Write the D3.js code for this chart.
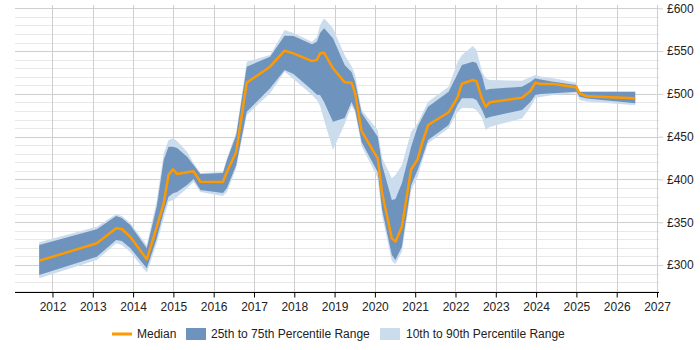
<!DOCTYPE html>
<html>
<head>
<meta charset="utf-8">
<script src="https://cdn.jsdelivr.net/npm/d3@7"></script>
<style>
  body { margin: 0; background: #fff; }
  svg { font-family: "Liberation Sans", Arial, sans-serif; }
  .grid-minor { stroke: #e8e8e8; stroke-width: 1; }
  .grid-major { stroke: #cfcfcf; stroke-width: 1; }
  .grid-year { stroke: #cfcfcf; stroke-width: 1; }
  .tick-label { font-size: 12px; fill: #222; }
  .legend text { font-size: 12px; fill: #222; }
</style>
</head>
<body>
<script>
// decimal years of each sample
var years = [2011.67, 2013.10, 2013.58, 2013.72, 2013.93, 2014.34, 2014.59, 2014.76, 2014.88, 2014.99,
  2015.09, 2015.34, 2015.50, 2015.67, 2016.23, 2016.33, 2016.56, 2016.82, 2017.40, 2017.76,
  2017.98, 2018.44, 2018.56, 2018.64, 2018.74, 2018.96, 2019.25, 2019.42, 2019.51, 2019.67,
  2020.07, 2020.18, 2020.42, 2020.51, 2020.67, 2020.90, 2021.06, 2021.17, 2021.32, 2021.83,
  2022.05, 2022.16, 2022.43, 2022.52, 2022.66, 2022.75, 2022.85, 2023.65, 2023.86, 2023.98,
  2024.11, 2024.43, 2025.00, 2025.08, 2025.26, 2026.46];

var median = [305.0, 325.4, 342.9, 342.1, 333.1, 306.7, 344.8, 372.1, 405.2, 411.9,
  406.4, 408.4, 409.5, 397.4, 397.0, 409.1, 432.4, 513.1, 531.8, 550.5,
  547.4, 538.4, 539.6, 547.4, 548.1, 529.9, 513.5, 513.1, 500.7, 456.6,
  424.7, 383.8, 331.2, 327.3, 344.8, 411.9, 423.5, 442.2, 463.6, 478.5,
  495.8, 511.9, 516.2, 514.8, 494.0, 485.0, 490.2, 495.5, 503.4, 513.1,
  511.5, 511.5, 507.7, 500.7, 497.2, 494.8];

var p25 = [288.3, 309.7, 329.2, 328.1, 319.9, 296.2, 331.6, 361.9, 379.8, 383.8,
  385.3, 393.5, 400.5, 387.7, 384.2, 390.0, 416.9, 479.2, 506.5, 527.9,
  523.2, 504.5, 499.0, 498.7, 490.5, 467.5, 471.8, 490.5, 481.2, 443.8,
  408.7, 364.3, 311.7, 305.9, 321.4, 393.5, 411.0, 425.1, 446.1, 463.6,
  487.0, 494.8, 494.8, 492.8, 481.2, 471.4, 473.0, 481.2, 490.5, 498.7,
  499.9, 500.7, 502.5, 496.7, 494.6, 489.0];

var p75 = [323.4, 341.7, 357.3, 354.9, 346.8, 319.5, 369.0, 422.7, 438.3, 438.3,
  436.7, 426.6, 416.9, 406.4, 407.5, 422.7, 451.9, 531.8, 543.4, 568.0,
  567.6, 557.9, 561.0, 571.1, 576.6, 564.9, 533.7, 525.6, 513.9, 477.7,
  449.9, 416.9, 376.0, 377.2, 395.5, 438.3, 461.6, 471.8, 485.0, 502.5,
  523.2, 533.7, 537.6, 536.1, 520.9, 504.5, 505.7, 508.4, 513.9, 518.2,
  516.8, 514.2, 510.4, 502.5, 502.5, 502.5];

var p10 = [284.5, 305.9, 325.4, 323.4, 315.2, 291.0, 325.7, 354.9, 374.0, 376.0,
  379.5, 389.7, 397.0, 385.3, 380.7, 385.3, 413.4, 475.3, 500.7, 525.9,
  517.4, 498.7, 493.0, 485.8, 469.5, 434.4, 464.8, 485.8, 478.8, 439.1,
  401.7, 357.3, 304.7, 301.2, 315.6, 387.7, 403.2, 420.4, 442.2, 459.8,
  478.8, 483.5, 483.1, 481.2, 471.8, 457.8, 461.3, 471.4, 484.7, 494.8,
  496.3, 498.7, 500.7, 492.8, 491.0, 486.7];

var p90 = [326.5, 344.8, 359.6, 357.3, 349.1, 323.4, 376.0, 430.5, 446.1, 448.1,
  444.9, 432.4, 419.2, 407.5, 408.7, 425.1, 455.5, 537.6, 545.4, 574.6,
  571.1, 561.0, 566.5, 580.5, 588.3, 576.6, 545.4, 532.6, 522.1, 481.2,
  457.8, 425.1, 401.3, 405.2, 416.9, 455.8, 465.6, 476.5, 490.9, 508.4,
  537.2, 545.4, 555.9, 551.3, 525.6, 518.2, 516.2, 515.4, 519.7, 522.1,
  520.3, 518.2, 513.1, 502.5, 502.5, 502.5];

var yearTicks = d3.range(2012, 2028);
var priceTicks = [300, 350, 400, 450, 500, 550, 600];
var minorTicks = d3.range(270, 601, 10);

var legendItems = ["Median", "25th to 75th Percentile Range", "10th to 90th Percentile Range"];

var width = 700,
  height = 350,
  plotLeft = 15,
  plotRight = 657,
  plotTop = 5,
  plotBottom = 292;

var rows = years.map(function (y, i) {
  return { year: y, med: median[i], p10: p10[i], p25: p25[i], p75: p75[i], p90: p90[i] };
});

var svg = d3.select("body")
  .append("svg")
  .attr("width", width)
  .attr("height", height);

var x = d3.scaleLinear().domain([2011.07, 2027.0]).range([plotLeft, plotRight]);
var y = d3.scaleLinear().domain([268.5, 603.9]).range([plotBottom, plotTop]);

// gridlines
svg.append("g")
  .selectAll("line")
  .data(minorTicks.filter(function (d) { return d % 50 != 0; }))
  .enter()
  .append("line")
  .attr("class", "grid-minor")
  .attr("x1", plotLeft)
  .attr("x2", plotRight + 2)
  .attr("y1", function (d) { return Math.round(y(d)) + 0.5; })
  .attr("y2", function (d) { return Math.round(y(d)) + 0.5; });

svg.append("g")
  .selectAll("line")
  .data(priceTicks)
  .enter()
  .append("line")
  .attr("class", "grid-major")
  .attr("x1", plotLeft)
  .attr("x2", plotRight + 2)
  .attr("y1", function (d) { return Math.round(y(d)) + 0.5; })
  .attr("y2", function (d) { return Math.round(y(d)) + 0.5; });

svg.append("g")
  .selectAll("line")
  .data(yearTicks)
  .enter()
  .append("line")
  .attr("class", "grid-year")
  .attr("x1", function (d) { return Math.round(x(d)) + 0.5; })
  .attr("x2", function (d) { return Math.round(x(d)) + 0.5; })
  .attr("y1", plotTop)
  .attr("y2", plotBottom);

// bands
var area90 = d3.area()
  .x(function (d) { return x(d.year); })
  .y0(function (d) { return y(d.p10); })
  .y1(function (d) { return y(d.p90); });

var area75 = d3.area()
  .x(function (d) { return x(d.year); })
  .y0(function (d) { return y(d.p25); })
  .y1(function (d) { return y(d.p75); });

svg.append("path")
  .datum(rows)
  .attr("d", area90)
  .attr("fill", "#cbdced");

svg.append("path")
  .datum(rows)
  .attr("d", area75)
  .attr("fill", "#6e93bd");

// median line
var line = d3.line()
  .x(function (d) { return x(d.year); })
  .y(function (d) { return y(d.med); });

svg.append("path")
  .datum(rows)
  .attr("d", line)
  .attr("fill", "none")
  .attr("stroke", "#ff9900")
  .attr("stroke-width", 2.5)
  .attr("stroke-linejoin", "round");

// x axis
var xAxis = d3.axisBottom(x)
  .tickValues(yearTicks)
  .tickFormat(d3.format("d"))
  .tickSize(5)
  .tickSizeOuter(0);

var gx = svg.append("g")
  .attr("transform", "translate(0," + (plotBottom + 0.5) + ")")
  .call(xAxis);
gx.select(".domain").attr("stroke", "#000").attr("d", "M" + plotLeft + ",0H" + (plotRight + 2));
gx.selectAll(".tick line").attr("stroke", "#000");
gx.selectAll(".tick text")
  .attr("class", "tick-label")
  .attr("y", 10)
  .style("font-size", "12px")
  .style("font-family", "'Liberation Sans', Arial, sans-serif");

// y axis labels on the right
var yAxis = d3.axisRight(y)
  .tickValues(priceTicks)
  .tickFormat(function (d) { return "£" + d; })
  .tickSize(4)
  .tickSizeOuter(0);

var gy = svg.append("g")
  .attr("transform", "translate(" + (plotRight + 2) + ",0)")
  .call(yAxis);
gy.select(".domain").remove();
gy.selectAll(".tick line").attr("stroke", "#cfcfcf");
gy.selectAll(".tick text")
  .attr("class", "tick-label")
  .attr("x", 8)
  .style("font-size", "12px")
  .style("font-family", "'Liberation Sans', Arial, sans-serif");

// legend
var legend = svg.append("g").attr("class", "legend");

legend.append("line")
  .attr("x1", 112).attr("x2", 132)
  .attr("y1", 334).attr("y2", 334)
  .attr("stroke", "#ff9900")
  .attr("stroke-width", 3);
legend.append("text").attr("x", 137).attr("y", 338).text(legendItems[0]);

legend.append("rect")
  .attr("x", 186).attr("y", 328)
  .attr("width", 20).attr("height", 12)
  .attr("fill", "#6e93bd");
legend.append("text").attr("x", 211).attr("y", 338).text(legendItems[1]);

legend.append("rect")
  .attr("x", 380).attr("y", 328)
  .attr("width", 20).attr("height", 12)
  .attr("fill", "#cbdced");
legend.append("text").attr("x", 406).attr("y", 338).text(legendItems[2]);
</script>
</body>
</html>
